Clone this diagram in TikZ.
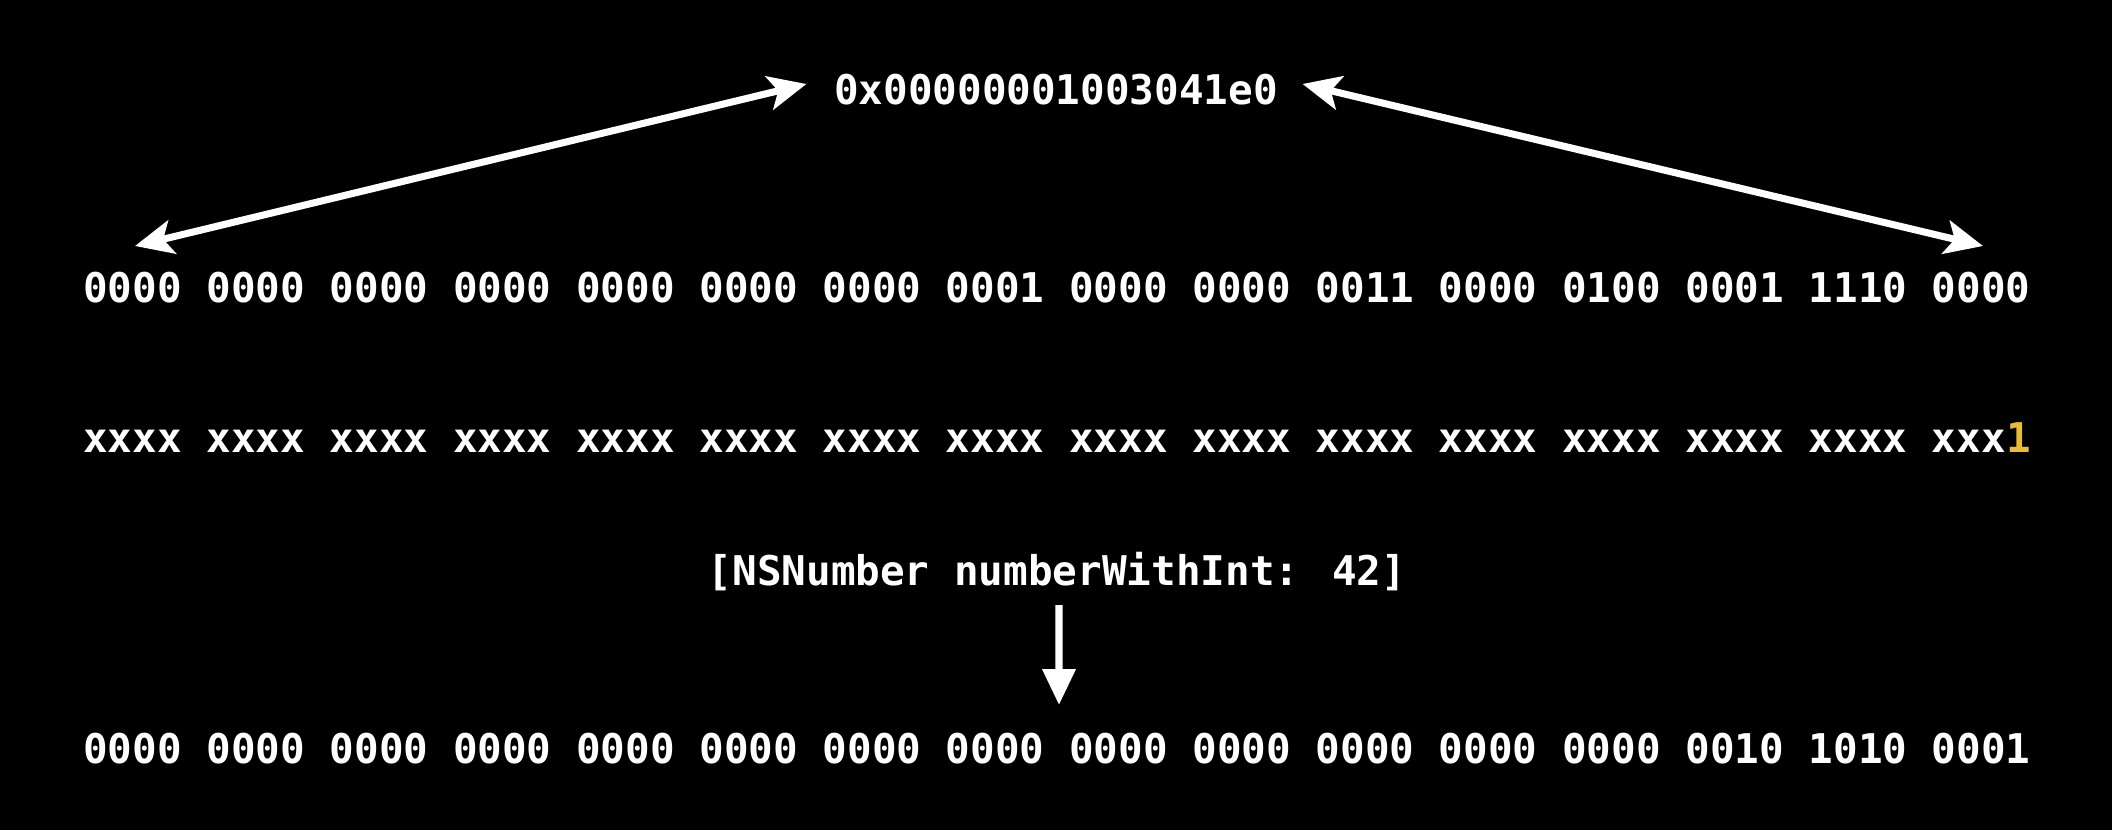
\documentclass[tikz,border=0pt]{standalone}
\usepackage{fontspec}
\newfontfamily\codefont{DejaVu Sans Mono}
\usetikzlibrary{arrows.meta,positioning}
\definecolor{tagyellow}{RGB}{232,188,58}

\begin{document}
\begin{tikzpicture}[
    code/.style={text=white,inner sep=0pt,font=\codefont\bfseries\fontsize{11.65}{14}\selectfont},
    link/.style={white,line width=2pt,{Stealth[length=3.8mm,width=3.4mm,inset=0.9mm]}-{Stealth[length=3.8mm,width=3.4mm,inset=0.9mm]}},
    down/.style={white,line width=2pt,-{Triangle[length=3.6mm,width=3.2mm]}}
    ]

    \fill[black] (0,0) rectangle (21.12,8.30);
    \useasboundingbox (0,0) rectangle (21.12,8.30);

    \node (addr) [code] at (10.56,7.40) {0x00000001003041e0};

    \node (bits) [code] at (10.57,5.42)
      {0000 0000 0000 0000 0000 0000 0000 0001 0000 0000 0011 0000 0100 0001 1110 0000};

    \node (tag) [code] at (10.57,3.92)
      {xxxx xxxx xxxx xxxx xxxx xxxx xxxx xxxx xxxx xxxx xxxx xxxx xxxx xxxx xxxx xxx\textcolor{tagyellow}{1}};

    \node (call) [code] at (10.57,2.58) {[NSNumber numberWithInt: 42]};

    \node (num) [code] at (10.57,0.81)
      {0000 0000 0000 0000 0000 0000 0000 0000 0000 0000 0000 0000 0000 0010 1010 0001};

    \coordinate (lend) at (1.35,5.84);
    \coordinate (rend) at (19.83,5.84);
    \coordinate (numtop) at (10.59,1.25);

    \draw[link] ([xshift=-2.7mm,yshift=0.6mm]addr.west) -- (lend);
    \draw[link] ([xshift=2.4mm,yshift=0.6mm]addr.east) -- (rend);
    \draw[down] ([xshift=0.2mm,yshift=-1.3mm]call.south) -- (numtop);

  \end{tikzpicture}
\end{document}
